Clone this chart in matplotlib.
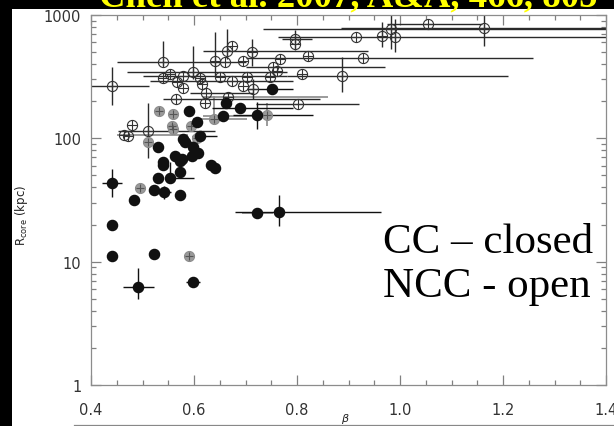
import matplotlib.pyplot as plt
import numpy as np
from matplotlib.patches import Rectangle
from matplotlib.lines import Line2D
from matplotlib.ticker import MultipleLocator, LogLocator, NullFormatter

# cool-core clusters (filled circles)
cc_beta = [0.441, 0.483, 0.530, 0.553, 0.522, 0.542, 0.573, 0.573, 0.540, 0.540,
           0.573, 0.633, 0.640, 0.441, 0.441, 0.522, 0.491, 0.598, 0.722, 0.765,
           0.530, 0.590, 0.606, 0.612, 0.583, 0.598, 0.608, 0.596, 0.563, 0.577,
           0.579, 0.656, 0.689, 0.662, 0.722, 0.751]
cc_rcore = [43.5, 31.6, 47.7, 47.7, 38.2, 36.7, 34.7, 53.4, 64.4, 60.8,
            65.6, 60.8, 58.0, 19.9, 11.1, 11.5, 6.24, 6.84, 24.8, 25.3,
            85.1, 167, 136, 105, 93.5, 85.0, 76.0, 72.0, 72.0, 68.0,
            99.0, 152, 176, 194, 155, 252]

# intermediate clusters (grey filled circles)
mid_beta = [0.495, 0.590, 0.511, 0.559, 0.557, 0.559, 0.594, 0.606, 0.639, 0.742, 0.532]
mid_rcore = [39.6, 11.1, 93.5, 158, 126, 119, 126, 101, 144, 155, 167]

# non-cool-core clusters (open circles)
ncc_beta = [0.441, 0.480, 0.464, 0.472, 0.511, 0.540, 0.540, 0.553, 0.567, 0.579,
            0.579, 0.598, 0.612, 0.616, 0.623, 0.621, 0.565, 0.641, 0.660, 0.664,
            0.674, 0.713, 0.695, 0.650, 0.674, 0.703, 0.695, 0.715, 0.666, 0.767,
            0.753, 0.761, 0.748, 0.796, 0.796, 0.821, 0.810, 0.802, 0.887, 0.915,
            0.928, 0.965, 0.983, 0.990, 1.054, 1.163]
ncc_rcore = [266, 128, 107, 105, 115, 417, 309, 333, 287, 321,
             256, 346, 309, 276, 233, 194, 209, 424, 417, 512,
             562, 502, 424, 315, 292, 315, 266, 252, 217, 440,
             379, 352, 315, 640, 583, 466, 333, 190, 321, 664,
             449, 677, 771, 664, 847, 786]

# error bars: centre beta, centre r, beta low/high, r low/high
err_cc = [
    (0.441, 43.5, 0.422, 0.460, 33.5, 56.5),
    (0.553, 47.7, 0.553, 0.600, 44.0, 64.4),
    (0.542, 36.7, 0.530, 0.555, 32.0, 41.0),
    (0.491, 6.24, 0.462, 0.522, 4.98, 8.89),
    (0.598, 6.84, 0.585, 0.612, 6.84, 6.84),
    (0.765, 25.3, 0.680, 0.963, 19.5, 34.7),
    (0.583, 93.5, 0.570, 0.600, 85.0, 103),
    (0.612, 105, 0.596, 0.645, 105, 105),
    (0.722, 155, 0.676, 0.831, 119, 197),
    (0.689, 176, 0.635, 0.792, 176, 176),
    (0.751, 252, 0.703, 0.792, 252, 252),
]
err_grey = [
    (0.722, 24.8, 0.693, 0.753, 24.8, 24.8),
    (0.656, 152, 0.617, 0.728, 152, 152),
    (0.495, 39.6, 0.485, 0.505, 36.0, 43.0),
    (0.590, 11.1, 0.580, 0.600, 11.1, 11.1),
    (0.511, 93.5, 0.500, 0.522, 85.0, 103),
    (0.639, 144, 0.598, 0.703, 136, 222),
    (0.742, 155, 0.742, 0.742, 125, 195),
    (0.666, 217, 0.617, 0.860, 217, 217),
    (0.464, 107, 0.450, 0.588, 107, 107),
]
err_ncc = [
    (0.441, 266, 0.400, 0.513, 187, 379),
    (0.511, 115, 0.452, 0.641, 69.3, 194),
    (0.540, 417, 0.450, 0.700, 386, 617),
    (0.598, 346, 0.470, 0.780, 303, 562),
    (0.579, 321, 0.500, 0.780, 321, 321),
    (0.641, 424, 0.641, 0.641, 321, 730),
    (0.664, 512, 0.617, 0.938, 440, 770),
    (0.713, 502, 0.713, 0.713, 386, 640),
    (0.715, 252, 0.715, 0.715, 209, 303),
    (0.674, 292, 0.515, 0.792, 292, 292),
    (0.623, 233, 0.592, 0.715, 233, 233),
    (0.565, 209, 0.540, 0.845, 209, 209),
    (0.802, 190, 0.720, 0.920, 190, 190),
    (0.753, 379, 0.700, 0.970, 379, 379),
    (0.796, 640, 0.770, 0.830, 520, 760),
    (0.887, 321, 0.780, 1.210, 238, 457),
    (0.928, 449, 0.700, 1.258, 449, 449),
    (0.965, 677, 0.965, 0.965, 551, 879),
    (0.983, 771, 0.734, 1.400, 531, 1020),
    (0.990, 664, 0.763, 1.400, 502, 930),
    (1.054, 847, 0.974, 1.160, 847, 847),
    (1.163, 786, 0.885, 1.400, 562, 1020),
]

fig = plt.figure(figsize=(6.14, 4.27), dpi=100, facecolor='black')
# white page under the plot, black strip left and top
fig.add_artist(Rectangle((12 / 614, 0), 1, 417 / 427, transform=fig.transFigure,
                         facecolor='white', edgecolor='none', zorder=-5))
ax = fig.add_axes([91 / 614, 41 / 427, 515 / 614, 370 / 427], zorder=2)
ax.set_facecolor('white')


def draw_err(rows, color, lw):
    for b, r, blo, bhi, rlo, rhi in rows:
        ax.errorbar([b], [r], xerr=[[b - blo], [bhi - b]], yerr=[[r - rlo], [rhi - r]],
                    fmt='none', ecolor=color, elinewidth=lw, capsize=0, zorder=2)


draw_err(err_grey, '#8a8a8a', 1.2)
draw_err(err_ncc, '#2a2a2a', 1.0)
draw_err(err_cc, '#111111', 1.0)

ax.plot(ncc_beta, ncc_rcore, 'o', ms=7.3, mfc='none', mec='#333333', mew=0.8, zorder=3)
ax.plot(ncc_beta, ncc_rcore, '+', ms=7.3, color='#333333', mew=0.8, zorder=3)
ax.plot(mid_beta, mid_rcore, 'o', ms=7.3, mfc='#9a9a9a', mec='#8a8a8a', mew=0.7, zorder=4)
ax.plot(mid_beta, mid_rcore, '+', ms=6, color='#555555', mew=0.8, zorder=4)
ax.plot(cc_beta, cc_rcore, 'o', ms=7.3, mfc='#111111', mec='#111111', zorder=5)

ax.set_xlim(0.4, 1.4)
ax.set_yscale('log')
ax.set_ylim(1, 1000)
ax.set_xticks([0.4, 0.6, 0.8, 1.0, 1.2, 1.4])
ax.set_xticklabels(['0.4', '0.6', '0.8', '1.0', '1.2', '1.4'])
ax.xaxis.set_minor_locator(MultipleLocator(0.05))
ax.set_yticks([1, 10, 100, 1000])
ax.set_yticklabels(['1', '10', '100', '1000'])
ax.yaxis.set_minor_locator(LogLocator(base=10, subs=np.arange(2, 10)))
ax.yaxis.set_minor_formatter(NullFormatter())
ax.tick_params(which='both', direction='in', top=True, right=True, color='#808080',
               labelsize=10.5, labelcolor='#333333', width=0.9)
ax.tick_params(which='major', length=7, pad=12)
ax.tick_params(which='minor', length=3.5)
ax.tick_params(axis='y', which='major', pad=7)
for s in ax.spines.values():
    s.set_color('#8c8c8c')
    s.set_linewidth(0.9)

fig.text(22 / 614, 1 - 215 / 427, r'R$_{\rm core}$ (kpc)', rotation=90, ha='center',
         va='center', fontsize=8.5, color='#222222')
fig.text(345 / 614, 1 - 419 / 427, r'$\beta$', ha='center', va='center',
         fontsize=8, color='#222222')
fig.add_artist(Line2D([74 / 614, 1], [1.2 / 427, 1.2 / 427], transform=fig.transFigure,
                      color='#888888', lw=0.9))

fig.text(383 / 614, 1 - 253 / 427, 'CC – closed', family='Liberation Serif',
         fontsize=31, color='black', va='baseline', ha='left', zorder=10)
fig.text(383 / 614, 1 - 297 / 427, 'NCC - open', family='Liberation Serif',
         fontsize=31, color='black', va='baseline', ha='left', zorder=10)

fig.text(348 / 614, 1 - 6 / 427, 'Chen et al. 2007, A&A, 466, 805',
         family='Liberation Serif', weight='bold', fontsize=26.5, color='#ffff00',
         ha='center', va='baseline', zorder=10)

fig.savefig('out.png', dpi=100, facecolor='black')
